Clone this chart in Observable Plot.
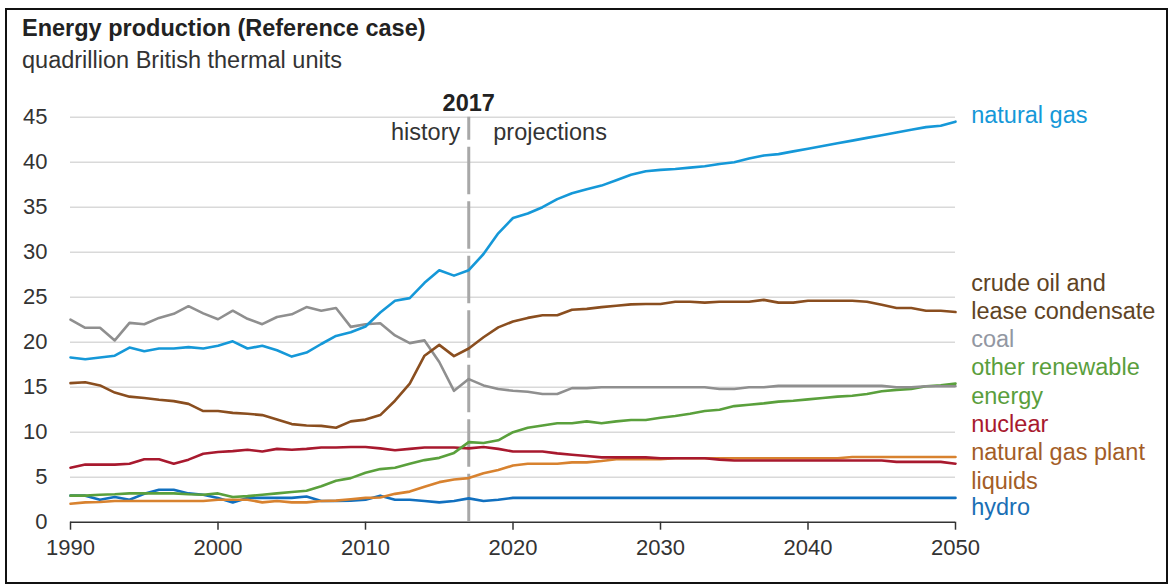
<!DOCTYPE html>
<html><head><meta charset="utf-8">
<script src="https://cdn.jsdelivr.net/npm/d3@7"></script>
<script src="https://cdn.jsdelivr.net/npm/@observablehq/plot@0.6"></script>
<style>
body{margin:0;background:#fff;font-family:"Liberation Sans",Arial,sans-serif;}
#wrap{position:relative;width:1174px;height:585px;overflow:hidden;background:#fff;}
#frame{position:absolute;left:5px;top:8px;width:1163px;height:576px;border:2px solid #111;box-sizing:border-box;pointer-events:none;}
#title{position:absolute;left:22px;top:15px;font-weight:bold;font-size:23.5px;color:#222;white-space:nowrap;}
#subtitle{position:absolute;left:22px;top:47px;font-size:23.5px;color:#333;white-space:nowrap;}
#chart{position:absolute;left:0;top:0;}
</style>
</head><body>
<div id="wrap">
<div id="chart"></div>
<div id="title">Energy production (Reference case)</div>
<div id="subtitle">quadrillion British thermal units</div>
<div id="frame"></div>
</div>
<script>
const years = [1990,1991,1992,1993,1994,1995,1996,1997,1998,1999,
2000,2001,2002,2003,2004,2005,2006,2007,2008,2009,
2010,2011,2012,2013,2014,2015,2016,2017,2018,2019,
2020,2021,2022,2023,2024,2025,2026,2027,2028,2029,
2030,2031,2032,2033,2034,2035,2036,2037,2038,2039,
2040,2041,2042,2043,2044,2045,2046,2047,2048,2049,2050];

const naturalGas = [18.3,18.1,18.3,18.5,19.4,19.0,19.3,19.3,19.45,19.3,
19.6,20.1,19.3,19.6,19.1,18.4,18.85,19.8,20.7,21.1,
21.75,23.3,24.6,24.9,26.6,28.0,27.4,28.0,29.8,32.1,
33.8,34.3,35.0,35.9,36.55,37.0,37.4,38.0,38.6,39.0,
39.15,39.25,39.4,39.55,39.8,40.0,40.4,40.75,40.9,41.2,
41.5,41.8,42.1,42.4,42.7,43.0,43.3,43.6,43.9,44.05,44.5];

const crudeOil = [15.45,15.55,15.2,14.4,13.95,13.8,13.6,13.45,13.15,12.35,
12.35,12.15,12.05,11.9,11.4,10.9,10.75,10.7,10.5,11.2,
11.4,11.9,13.5,15.4,18.5,19.7,18.45,19.3,20.55,21.65,
22.3,22.7,23.0,23.0,23.6,23.7,23.9,24.05,24.2,24.25,
24.25,24.5,24.5,24.4,24.5,24.5,24.5,24.7,24.4,24.4,
24.6,24.6,24.6,24.6,24.5,24.15,23.8,23.8,23.5,23.5,23.35];

const coal = [22.5,21.6,21.6,20.2,22.15,22.0,22.7,23.15,24.0,23.2,
22.55,23.5,22.6,22.0,22.8,23.1,23.9,23.5,23.8,21.7,
22.0,22.1,20.75,19.9,20.2,17.8,14.6,15.9,15.2,14.8,
14.6,14.5,14.25,14.25,14.9,14.9,15.0,15.0,15.0,15.0,
15.0,15.0,15.0,15.0,14.8,14.8,15.0,15.0,15.15,15.15,
15.15,15.15,15.15,15.15,15.15,15.15,15.0,15.0,15.1,15.1,15.1];

const otherRenewable = [2.95,2.95,3.05,3.1,3.2,3.2,3.2,3.2,3.1,3.05,
3.2,2.8,2.9,3.05,3.2,3.35,3.5,4.0,4.6,4.9,
5.5,5.9,6.05,6.5,6.9,7.15,7.7,8.9,8.8,9.1,
10.0,10.5,10.75,11.0,11.0,11.2,11.0,11.2,11.35,11.35,
11.6,11.8,12.05,12.35,12.5,12.9,13.05,13.2,13.4,13.5,
13.65,13.8,13.95,14.05,14.25,14.55,14.7,14.8,15.1,15.2,15.4];

const nuclear = [6.05,6.4,6.4,6.4,6.5,7.0,7.0,6.5,6.95,7.6,
7.8,7.9,8.05,7.85,8.15,8.05,8.15,8.3,8.3,8.35,
8.35,8.2,8.0,8.15,8.3,8.3,8.3,8.2,8.35,8.15,
7.85,7.85,7.85,7.65,7.5,7.35,7.2,7.2,7.2,7.2,
7.1,7.1,7.1,7.1,6.95,6.85,6.85,6.85,6.85,6.85,
6.85,6.85,6.85,6.85,6.85,6.85,6.7,6.7,6.7,6.7,6.5];

const gasPlantLiquids = [2.05,2.2,2.25,2.35,2.35,2.35,2.35,2.35,2.35,2.35,
2.5,2.5,2.5,2.2,2.35,2.2,2.2,2.35,2.4,2.55,
2.7,2.75,3.15,3.4,3.95,4.45,4.75,4.9,5.45,5.8,
6.3,6.5,6.5,6.5,6.65,6.65,6.8,7.0,7.0,7.0,
7.0,7.1,7.1,7.1,7.1,7.1,7.1,7.1,7.1,7.1,
7.1,7.1,7.1,7.25,7.25,7.25,7.25,7.25,7.25,7.25,7.25];

const hydro = [2.95,2.95,2.5,2.8,2.5,3.15,3.6,3.6,3.2,3.05,
2.7,2.2,2.7,2.7,2.7,2.7,2.85,2.35,2.35,2.4,
2.5,2.95,2.5,2.5,2.35,2.2,2.35,2.65,2.35,2.5,
2.7,2.7,2.7,2.7,2.7,2.7,2.7,2.7,2.7,2.7,
2.7,2.7,2.7,2.7,2.7,2.7,2.7,2.7,2.7,2.7,
2.7,2.7,2.7,2.7,2.7,2.7,2.7,2.7,2.7,2.7,2.7];

const seriesKeys = ["hydro","ngpl","nuclear","renewable","coal","crude","gas"];
const seriesValues = [hydro, gasPlantLiquids, nuclear, otherRenewable, coal, crudeOil, naturalGas];
const seriesLabels = ["hydro","natural gas plant\nliquids","nuclear","other renewable\nenergy","coal","crude oil and\nlease condensate","natural gas"];

const yTicks = [0,5,10,15,20,25,30,35,40,45];
const xTicks = [1990,2000,2010,2020,2030,2040,2050];
const dividerYear = [2017];
const annotationTexts = ["2017","history","projections"];

// ---- styling / layout (not data) ----
const lineColors = {hydro:"#1170bf", ngpl:"#d8822f", nuclear:"#a8192e", renewable:"#5aa03c", coal:"#8f8f8f", crude:"#8a4e1f", gas:"#1598d8"};
const textColors = {hydro:"#1a6fb5", ngpl:"#a35d27", nuclear:"#a8192e", renewable:"#5a9e3c", coal:"#9297a2", crude:"#5e4324", gas:"#1598d8"};
const labelDy = {hydro:7.8, ngpl:8.5, nuclear:-40.7, renewable:-3.1, coal:-48.3, crude:-16.2, gas:-7.7};

const table = [];
seriesKeys.forEach((k, i) => {
  years.forEach((yr, j) => table.push({series: k, year: yr, value: seriesValues[i][j]}));
});

const font = "Liberation Sans, Arial, sans-serif";
const labelMarks = seriesKeys.map((k, i) => Plot.text([{x: years[years.length-1], y: seriesValues[i][years.length-1], t: seriesLabels[i]}], {
  x: "x", y: "y", text: "t", dx: 15.7, dy: labelDy[k], textAnchor: "start",
  fill: textColors[k], fontSize: 23.5, lineHeight: 1.2, fontFamily: font
}));

const chart = Plot.plot({
  width: 1174, height: 585,
  marginLeft: 70, marginRight: 219, marginTop: 116.7, marginBottom: 63.3,
  style: {fontFamily: font, background: "transparent", color: "#333", overflow: "visible"},
  x: {domain: [1990, 2050], label: null},
  y: {domain: [0, 45], label: null},
  color: {domain: seriesKeys, range: seriesKeys.map(k => lineColors[k])},
  marks: [
    Plot.gridY(yTicks.filter(d => d > 0), {stroke: "#d9d9d9", strokeOpacity: 1, strokeWidth: 1.5}),
    Plot.axisY(yTicks, {tickSize: 0, tickPadding: 23, fontSize: 22, fill: "#333", label: null}),
    Plot.axisX(xTicks, {tickSize: 8, tickPadding: 9, tickFormat: d => String(d), fontSize: 22, fill: "#333", stroke: "#333", strokeWidth: 1.5, label: null}),
    Plot.ruleY([0], {stroke: "#333", strokeWidth: 1.5}),
    Plot.ruleX(dividerYear, {y1: 45, y2: 0, stroke: "#a8a8a8", strokeWidth: 3, strokeDasharray: "47.5,7", strokeDashoffset: 24.5}),
    Plot.line(table, {x: "year", y: "value", z: "series", stroke: "series", strokeWidth: 2.6, strokeLinejoin: "round"}),
    Plot.text([annotationTexts[0]], {x: () => dividerYear[0], y: () => 45, text: d => d, dy: -13.5, fontWeight: "bold", fontSize: 23.5, fill: "#222", fontFamily: font}),
    Plot.text([annotationTexts[1]], {x: () => dividerYear[0], y: () => 45, text: d => d, dx: -8.5, dy: 14.8, textAnchor: "end", fontSize: 23.5, fill: "#333", fontFamily: font}),
    Plot.text([annotationTexts[2]], {x: () => dividerYear[0], y: () => 45, text: d => d, dx: 24.5, dy: 14.8, textAnchor: "start", fontSize: 23.5, fill: "#333", fontFamily: font}),
    ...labelMarks
  ]
});
document.getElementById("chart").appendChild(chart);
</script>
</body></html>
